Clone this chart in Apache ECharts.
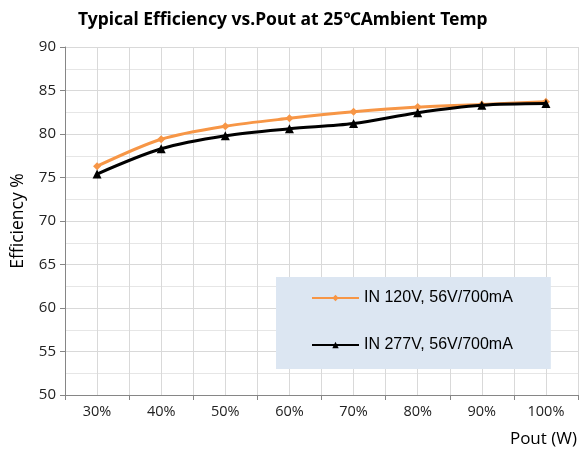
<!DOCTYPE html>
<html>
<head>
<meta charset="utf-8">
<script src="https://cdn.jsdelivr.net/npm/echarts@6/dist/echarts.min.js"></script>
<style>html,body{margin:0;padding:0;background:#fff;}#c{width:584px;height:454px;}</style>
</head>
<body>
<div id="c"></div>
<script>
var categories = ['30%','40%','50%','60%','70%','80%','90%','100%'];
var in120 = [76.3, 79.4, 80.9, 81.8, 82.55, 83.1, 83.4, 83.7];
var in277 = [75.4, 78.3, 79.8, 80.6, 81.2, 82.45, 83.3, 83.5];
var seriesNames = ['IN 120V, 56V/700mA', 'IN 277V, 56V/700mA'];

var chart = echarts.init(document.getElementById('c'));
chart.setOption({
  backgroundColor: '#fff',
  animation: false,
  title: {
    text: 'Typical Efficiency vs.Pout at 25\u2103Ambient Temp',
    left: 73, top: 6,
    textStyle: {fontFamily: 'Noto Sans', fontWeight: 'bold', fontSize: 17.5, color: '#000'}
  },
  grid: {left: 65, right: 6, top: 47, bottom: 59},
  legend: {
    orient: 'vertical',
    left: 276, top: 277,
    padding: [13, 38, 16, 35],
    itemGap: 31,
    itemWidth: 47, itemHeight: 8,
    backgroundColor: '#dce6f2',
    textStyle: {fontFamily: 'Liberation Sans', fontSize: 16, color: '#000'},
    data: seriesNames
  },
  xAxis: [{
    type: 'category',
    data: categories,
    boundaryGap: true,
    name: 'Pout (W)',
    nameLocation: 'end',
    nameGap: 0,
    nameTextStyle: {fontFamily: 'Open Sans', fontSize: 17, color: '#000', align: 'right', verticalAlign: 'top', padding: [36, 1, 0, 0]},
    axisLine: {lineStyle: {color: '#868686', width: 1}},
    axisTick: {show: true, length: 5, lineStyle: {color: '#868686'}},
    axisLabel: {fontFamily: 'Open Sans', fontSize: 14.5, color: '#222', margin: 9},
    splitLine: {show: false}
  }, {
    type: 'value',
    min: 0, max: 16, interval: 1,
    show: true,
    position: 'top',
    axisLine: {show: false},
    axisTick: {show: false},
    axisLabel: {show: false},
    splitLine: {show: true, lineStyle: {color: '#d9d9d9', width: 1}}
  }],
  yAxis: {
    type: 'value',
    min: 50, max: 90, interval: 5,
    name: 'Efficiency %',
    nameLocation: 'middle',
    nameGap: 38,
    nameTextStyle: {fontFamily: 'Open Sans', fontSize: 17.5, color: '#000'},
    axisLine: {show: true, lineStyle: {color: '#868686', width: 1}},
    axisTick: {show: true, length: 5, lineStyle: {color: '#868686'}},
    axisLabel: {fontFamily: 'Open Sans', fontSize: 15, color: '#222', margin: 9},
    splitLine: {show: true, lineStyle: {color: '#d9d9d9', width: 1}},
    minorSplitLine: {show: true, lineStyle: {color: '#e6e6e6', width: 1}},
    minorTick: {show: false, splitNumber: 2}
  },
  series: [{
    name: seriesNames[0],
    type: 'line',
    data: in120,
    smooth: 0.3,
    symbol: 'diamond',
    symbolSize: 8,
    lineStyle: {color: '#f79646', width: 3},
    itemStyle: {color: '#f79646'},
    z: 3
  }, {
    name: seriesNames[1],
    type: 'line',
    data: in277,
    smooth: 0.3,
    symbol: 'triangle',
    symbolSize: 9,
    lineStyle: {color: '#000', width: 3},
    itemStyle: {color: '#000'},
    z: 4
  }]
});
</script>
</body>
</html>
